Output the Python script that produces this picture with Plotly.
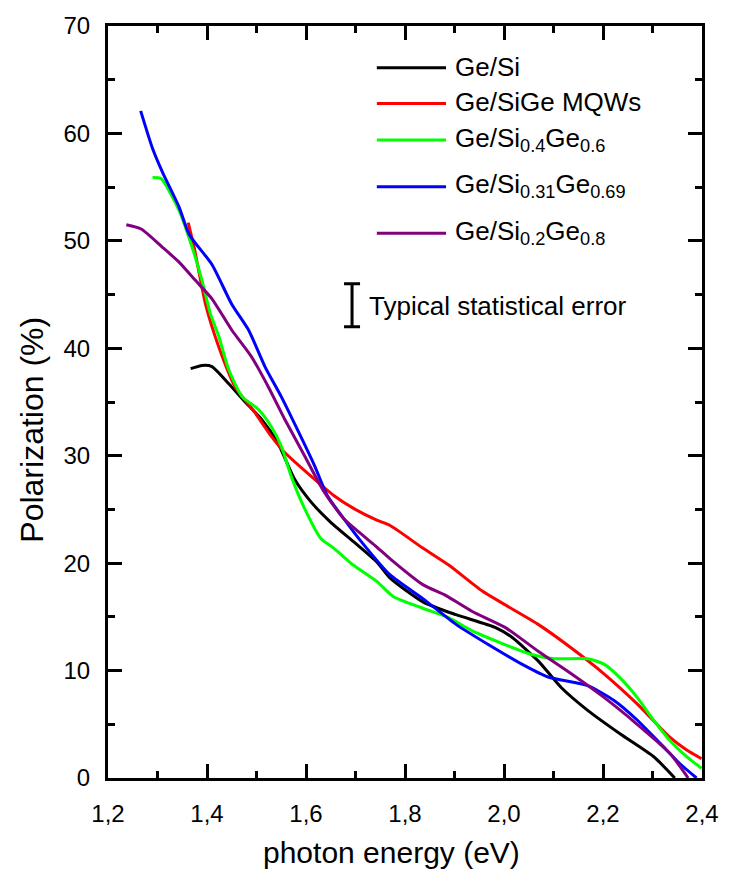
import plotly.graph_objects as go

# ---- data ----
ge_si_x = [1.367, 1.39, 1.41, 1.444, 1.477, 1.51, 1.543, 1.577, 1.61, 1.65, 1.696, 1.743, 1.77, 1.836, 1.903, 1.983, 2.016, 2.069, 2.116, 2.169, 2.235, 2.302, 2.345]
ge_si_y = [38.1, 38.4, 38.3, 36.7, 35.0, 33.4, 31.2, 27.8, 25.7, 23.8, 22.0, 20.1, 18.6, 16.4, 15.2, 14.0, 13.1, 10.9, 8.4, 6.3, 4.1, 2.0, 0.0]

mqw_x = [1.362, 1.374, 1.397, 1.424, 1.457, 1.497, 1.530, 1.557, 1.610, 1.656, 1.696, 1.743, 1.770, 1.836, 1.889, 1.956, 2.003, 2.069, 2.136, 2.202, 2.269, 2.335, 2.369, 2.399]
mqw_y = [51.7, 49.4, 44.1, 40.1, 36.4, 34.0, 31.8, 30.3, 28.1, 26.3, 25.1, 24.0, 23.5, 21.4, 19.8, 17.4, 16.1, 14.3, 12.1, 9.7, 6.9, 3.8, 2.6, 1.8]

si04_x = [1.290, 1.307, 1.344, 1.370, 1.390, 1.407, 1.424, 1.444, 1.471, 1.504, 1.530, 1.550, 1.570, 1.597, 1.630, 1.656, 1.696, 1.743, 1.776, 1.836, 1.889, 1.936, 2.003, 2.056, 2.102, 2.169, 2.202, 2.235, 2.269, 2.302, 2.335, 2.369, 2.399]
si04_y = [55.9, 55.8, 52.8, 49.4, 46.3, 43.2, 41.1, 38.0, 35.5, 34.3, 32.7, 30.9, 28.1, 25.1, 22.3, 21.4, 19.8, 18.3, 16.9, 15.8, 14.9, 13.7, 12.4, 11.5, 11.1, 11.1, 10.6, 9.3, 7.5, 5.4, 3.5, 2.0, 0.9]

si031_x = [1.266, 1.290, 1.310, 1.344, 1.364, 1.410, 1.450, 1.484, 1.517, 1.550, 1.583, 1.617, 1.643, 1.677, 1.710, 1.770, 1.836, 1.903, 1.969, 2.036, 2.089, 2.169, 2.223, 2.269, 2.316, 2.356, 2.389]
si031_y = [62.1, 58.6, 56.4, 53.1, 50.6, 47.8, 44.1, 41.7, 38.3, 35.5, 32.4, 29.1, 26.3, 24.1, 22.1, 18.9, 16.7, 14.3, 12.4, 10.6, 9.4, 8.6, 7.2, 5.4, 3.2, 1.3, 0.0]

si02_x = [1.237, 1.267, 1.310, 1.344, 1.377, 1.410, 1.450, 1.490, 1.524, 1.557, 1.597, 1.637, 1.677, 1.743, 1.770, 1.836, 1.882, 1.936, 2.003, 2.069, 2.136, 2.202, 2.269, 2.335, 2.372]
si02_y = [51.5, 51.1, 49.4, 48.0, 46.3, 44.6, 41.7, 39.2, 36.4, 33.4, 30.0, 26.6, 24.1, 21.5, 20.4, 18.0, 17.0, 15.5, 14.0, 11.8, 9.7, 7.5, 5.0, 2.3, 0.0]

err_x = [1.693]
err_y = [44.0]
err_val = [2.0]

names = ["Ge/Si", "Ge/SiGe MQWs", "Ge/Si<sub>0.4</sub>Ge<sub>0.6</sub>",
         "Ge/Si<sub>0.31</sub>Ge<sub>0.69</sub>", "Ge/Si<sub>0.2</sub>Ge<sub>0.8</sub>"]
colors = ["#000000", "#ff0000", "#00ff00", "#0000ff", "#800080"]
series = [(ge_si_x, ge_si_y), (mqw_x, mqw_y), (si04_x, si04_y), (si031_x, si031_y), (si02_x, si02_y)]

FONT = "Liberation Sans, Arial, sans-serif"

fig = go.Figure()
for (xs, ys), c, n in zip(series, colors, names):
    fig.add_trace(go.Scatter(x=xs, y=ys, mode="lines", name=n,
                             line=dict(color=c, width=3, shape="spline", smoothing=0.6),
                             showlegend=False))

fig.add_trace(go.Scatter(x=err_x, y=err_y, mode="markers", marker=dict(size=1, color="rgba(0,0,0,0)"),
                         error_y=dict(type="data", array=err_val, visible=True, color="black",
                                      thickness=3, width=8),
                         showlegend=False))

W, H = 731, 879
ml, mr, mt, mb = 108, 22, 20, 101
pw, ph = W - ml - mr, H - mt - mb

def px2paper(px, py):
    return (px - ml) / pw, (H - mb - py) / ph

shapes = []
annotations = []
legend_rows = [62, 98, 135, 182, 229]
for name, c, ry in zip(names, colors, legend_rows):
    x0, y0 = px2paper(380, ry)
    x1, _ = px2paper(450, ry)
    shapes.append(dict(type="line", xref="paper", yref="paper", x0=x0, x1=x1, y0=y0, y1=y0,
                       line=dict(color=c, width=3)))
    tx, ty = px2paper(457, ry - 1)
    annotations.append(dict(text=name, xref="paper", yref="paper", x=tx, y=ty,
                            xanchor="left", yanchor="middle", showarrow=False,
                            font=dict(family=FONT, size=26, color="black")))

ex, ey = px2paper(370, 302)
annotations.append(dict(text="Typical statistical error", xref="paper", yref="paper", x=ex, y=ey,
                        xanchor="left", yanchor="middle", showarrow=False,
                        font=dict(family=FONT, size=26, color="black")))

axt = px2paper(395, 853)
annotations.append(dict(text="photon energy (eV)", xref="paper", yref="paper", x=axt[0], y=axt[1],
                        xanchor="center", yanchor="middle", showarrow=False,
                        font=dict(family=FONT, size=30, color="black")))
ayt = px2paper(31, 427)
annotations.append(dict(text="Polarization (%)", xref="paper", yref="paper", x=ayt[0], y=ayt[1],
                        xanchor="center", yanchor="middle", showarrow=False, textangle=-90,
                        font=dict(family=FONT, size=32, color="black")))

axis_common = dict(showline=True, linecolor="black", linewidth=3, mirror="ticks",
                   ticks="inside", ticklen=14, tickwidth=2.5, tickcolor="black",
                   showgrid=False, zeroline=False,
                   tickfont=dict(family=FONT, size=24, color="black"))

fig.update_layout(
    width=W, height=H,
    margin=dict(l=ml, r=mr, t=mt, b=mb),
    paper_bgcolor="white", plot_bgcolor="white",
    separators=",.",
    showlegend=False,
    shapes=shapes,
    annotations=annotations,
    xaxis=dict(range=[1.2, 2.4], tick0=1.2, dtick=0.2, tickformat=".1f",
               minor=dict(ticks="inside", ticklen=7, dtick=0.1, tickwidth=2.5, tickcolor="black"),
               ticklabelstandoff=12, **axis_common),
    yaxis=dict(range=[0, 70], tick0=0, dtick=10,
               minor=dict(ticks="inside", ticklen=7, dtick=5, tickwidth=2.5, tickcolor="black"),
               ticklabelstandoff=10, **axis_common),
)

fig.write_html("out.html")
